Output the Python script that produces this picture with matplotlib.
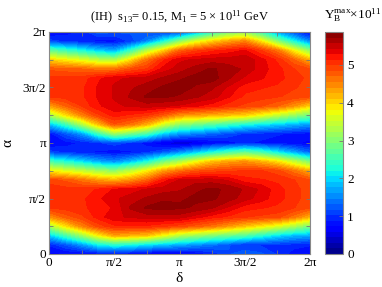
import numpy as np
import matplotlib
matplotlib.use("Agg")
import matplotlib.pyplot as plt

plt.rcParams['font.family'] = ['Liberation Serif', 'DejaVu Serif']
plt.rcParams['mathtext.fontset'] = 'custom'
plt.rcParams['mathtext.rm'] = 'Liberation Serif'
plt.rcParams['mathtext.it'] = 'Liberation Serif:italic'

# delta grid (units of pi) and alpha grid (units of pi)
delta_pi = [0, 0.125, 0.25, 0.375, 0.5, 0.625, 0.75, 0.875, 1.0,
            1.125, 1.25, 1.375, 1.5, 1.625, 1.75, 1.875, 2.0]
alpha_pi = [0, 1/12, 2/12, 3/12, 4/12, 5/12, 6/12, 7/12, 8/12, 9/12, 10/12, 11/12, 1.0,
            13/12, 14/12, 15/12, 16/12, 17/12, 18/12, 19/12, 20/12, 21/12, 22/12, 23/12, 2.0]

# Y_B^max x 1e11, rows = alpha, columns = delta
YB = [
    [0.7, 0.7, 0.7, 0.75, 0.8, 0.7, 0.6, 0.55, 0.6, 0.7, 0.9, 1.15, 1.3, 1.2, 1.0, 0.8, 0.7],
    [0.9, 1.2, 1.6, 2.1, 2.3, 2.2, 2.0, 1.85, 1.7, 1.55, 1.4, 1.2, 1.0, 1.0, 1.0, 0.95, 0.9],
    [1.9, 2.5, 3.1, 3.8, 4.3, 4.2, 4.1, 3.7, 3.3, 3.1, 2.9, 2.75, 2.6, 2.3, 2.0, 1.8, 1.7],
    [3.2, 3.9, 4.5, 4.9, 5.1, 5.1, 5.1, 5.0, 4.9, 4.75, 4.6, 4.35, 4.1, 3.85, 3.6, 3.25, 2.9],
    [4.4, 4.75, 4.95, 5.2, 5.4, 5.45, 5.5, 5.5, 5.5, 5.35, 5.2, 5.1, 5.0, 4.95, 4.9, 4.6, 4.2],
    [5.0, 5.05, 5.1, 5.2, 5.3, 5.6, 5.75, 5.78, 5.75, 5.7, 5.6, 5.4, 5.2, 5.15, 5.1, 5.0, 4.85],
    [5.1, 5.1, 5.1, 5.25, 5.4, 5.5, 5.6, 5.7, 5.7, 5.75, 5.75, 5.65, 5.5, 5.35, 5.2, 5.05, 4.9],
    [5.1, 5.05, 5.05, 5.15, 5.3, 5.35, 5.45, 5.5, 5.55, 5.7, 5.75, 5.7, 5.55, 5.4, 5.2, 5.05, 4.9],
    [4.9, 4.8, 4.6, 4.35, 4.2, 4.4, 4.7, 5.2, 5.45, 5.5, 5.5, 5.4, 5.2, 5.15, 5.1, 5.0, 4.85],
    [3.8, 3.6, 3.4, 3.15, 3.0, 3.35, 3.8, 4.3, 4.6, 4.8, 4.9, 4.95, 5.0, 5.0, 4.9, 4.6, 4.2],
    [2.5, 2.25, 2.0, 1.7, 1.5, 1.8, 2.2, 2.8, 3.2, 3.7, 4.1, 4.3, 4.4, 4.2, 3.9, 3.4, 2.9],
    [1.1, 1.0, 0.9, 0.85, 0.8, 0.85, 1.0, 1.2, 1.5, 1.85, 2.2, 2.5, 2.7, 2.5, 2.1, 1.7, 1.3],
    [0.7, 0.8, 0.9, 1.0, 1.1, 1.0, 0.8, 0.55, 0.4, 0.5, 0.7, 0.8, 0.9, 0.85, 0.8, 0.75, 0.7],
    [0.8, 1.2, 1.6, 2.4, 3.1, 2.8, 2.5, 1.9, 1.6, 1.45, 1.3, 1.15, 1.0, 0.95, 0.9, 0.85, 0.8],
    [1.8, 2.4, 3.2, 4.1, 4.8, 4.6, 4.2, 3.5, 3.0, 2.8, 2.6, 2.4, 2.2, 2.05, 1.9, 1.75, 1.6],
    [3.2, 3.9, 4.5, 4.95, 5.2, 5.1, 5.0, 4.75, 4.4, 4.3, 4.2, 4.1, 4.0, 3.7, 3.4, 3.1, 2.8],
    [4.3, 4.7, 5.0, 5.25, 5.4, 5.45, 5.5, 5.45, 5.4, 5.3, 5.2, 5.05, 4.95, 4.85, 4.7, 4.4, 4.0],
    [5.0, 5.05, 5.1, 5.3, 5.45, 5.6, 5.75, 5.75, 5.7, 5.6, 5.5, 5.3, 5.1, 5.05, 5.0, 4.95, 4.85],
    [5.1, 5.1, 5.1, 5.3, 5.45, 5.55, 5.65, 5.75, 5.8, 5.7, 5.6, 5.4, 5.2, 5.15, 5.1, 5.0, 4.95],
    [5.05, 5.05, 5.05, 5.25, 5.4, 5.45, 5.5, 5.6, 5.7, 5.78, 5.8, 5.6, 5.4, 5.3, 5.2, 5.05, 4.95],
    [4.8, 4.75, 4.7, 4.6, 4.6, 4.85, 5.0, 5.35, 5.5, 5.65, 5.75, 5.65, 5.55, 5.35, 5.2, 5.0, 4.85],
    [4.0, 3.8, 3.6, 3.35, 3.2, 3.9, 4.6, 5.1, 5.4, 5.45, 5.5, 5.5, 5.55, 5.35, 5.1, 4.7, 4.2],
    [2.7, 2.45, 2.2, 1.9, 1.7, 2.4, 3.3, 4.0, 4.7, 4.95, 5.1, 5.2, 5.3, 5.0, 4.6, 3.8, 3.0],
    [1.1, 1.0, 0.9, 0.8, 0.8, 1.05, 1.5, 2.2, 3.0, 3.6, 4.0, 4.3, 4.5, 3.9, 3.0, 2.2, 1.5],
    [0.7, 0.8, 0.9, 1.25, 1.2, 1.2, 1.1, 1.0, 1.0, 1.6, 2.3, 2.8, 3.0, 2.4, 1.6, 1.1, 0.7],
]

tick_labels = ['0', 'π/2', 'π', '3π/2', '2π']
cbar_ticks = [0, 1, 2, 3, 4, 5]
vmax = 5.87

d = np.array(delta_pi) * np.pi
a = np.array(alpha_pi) * np.pi
Z = np.array(YB)

fig = plt.figure(figsize=(3.82, 2.87), dpi=100)
ax = fig.add_axes([49/382, 1-254/287, 261/382, 222/287])
levels = np.linspace(0, vmax, 41)
cf = ax.contourf(d, a, Z, levels=levels, cmap='jet', vmin=0, vmax=vmax)

major = np.arange(5) * np.pi / 2
minor = np.arange(9) * np.pi / 4
ax.set_xlim(0, 2*np.pi)
ax.set_ylim(0, 2*np.pi)
ax.set_xticks(major)
ax.set_xticklabels(tick_labels, fontsize=9.5)
ax.set_yticks(major)
ax.set_yticklabels(tick_labels, fontsize=9.5)
ax.set_xticks(minor, minor=True)
ax.set_yticks(minor, minor=True)
ax.tick_params(which='both', direction='in', top=True, right=True,
               color='#777777', length=3, width=0.6, pad=2)
for s in ax.spines.values():
    s.set_color('#888888')
    s.set_linewidth(0.8)
ax.set_xlabel('δ', fontsize=11, labelpad=2)
ax.set_ylabel('α', fontsize=11, labelpad=6)
ax.set_title(r'(IH)  s$_{13}$= 0.15, M$_1$ = 5 × 10$^{11}$ GeV', fontsize=9, pad=8)

cax = fig.add_axes([325/382, 1-254/287, 18/382, 222/287])
cb = fig.colorbar(cf, cax=cax, ticks=cbar_ticks)
cb.ax.set_yticklabels([str(t) for t in cbar_ticks], fontsize=9.5)
cb.ax.tick_params(direction='in', length=3, width=0.6, color='#777777', pad=3)
cb.outline.set_edgecolor('#888888')
cb.outline.set_linewidth(0.8)
fig.text(353/382, 1-15/287, r'Y$_{\rm B}^{\rm max}$×10$^{11}$', ha='center', va='center', fontsize=9.5)

fig.savefig('out.png', dpi=100)
